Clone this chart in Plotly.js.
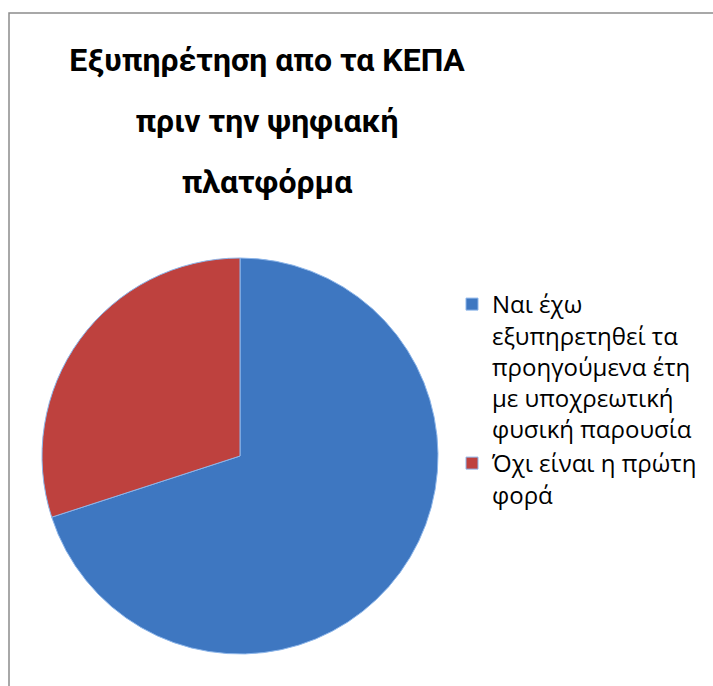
<!DOCTYPE html>
<html>
<head>
<meta charset="utf-8">
<script src="https://cdn.plot.ly/plotly-3.0.1.min.js"></script>
<style>html,body{margin:0;padding:0;background:#fff;}#chart{width:713px;height:686px;}</style>
</head>
<body>
<div id="chart"></div>
<script>
const titleLines = ["Εξυπηρέτηση απο τα ΚΕΠΑ", "πριν την ψηφιακή", "πλατφόρμα"];
const labels = ["Ναι έχω<br>εξυπηρετηθεί τα<br>προηγούμενα έτη<br>με υποχρεωτική<br>φυσική παρουσία", "Όχι είναι η πρώτη<br>φορά"];
const values = [70, 30];
const colors = ["#3E77C1", "#BE413E"];

const W = 713, H = 686;

const data = [{
  type: "pie",
  labels: labels,
  values: values,
  sort: false,
  direction: "clockwise",
  rotation: 0,
  textinfo: "none",
  hoverinfo: "label+percent",
  marker: {colors: colors, line: {color: "#8DB6EA", width: 1}},
  domain: {x: [42 / W, 438 / W], y: [(H - 654) / H, (H - 258) / H]}
}];

const layout = {
  width: W, height: H,
  margin: {l: 0, r: 0, t: 0, b: 0},
  paper_bgcolor: "#ffffff",
  font: {family: "Open Sans, sans-serif", color: "#000000"},
  title: {
    text: titleLines.map(l => `<span style="font-size:32px">${l}</span>`).join("<br>"),
    font: {family: "Roboto, Open Sans, sans-serif", size: 47, weight: 700, color: "#000000"},
    x: 267 / W, xanchor: "center",
    y: 1 - 71 / H, yanchor: "top", yref: "container"
  },
  showlegend: true,
  legend: {
    x: 452 / W, xanchor: "left",
    y: 1 - 282 / H, yanchor: "top",
    valign: "top",
    font: {family: "Open Sans, sans-serif", size: 24, color: "#000000"},
    bgcolor: "rgba(0,0,0,0)"
  },
  shapes: [{
    type: "rect", xref: "paper", yref: "paper",
    x0: 9 / W, x1: 1.05, y0: -0.05, y1: 1 - 13 / H,
    line: {color: "#8C8C8C", width: 1.5}
  }]
};

Plotly.newPlot("chart", data, layout, {staticPlot: true});
</script>
</body>
</html>
